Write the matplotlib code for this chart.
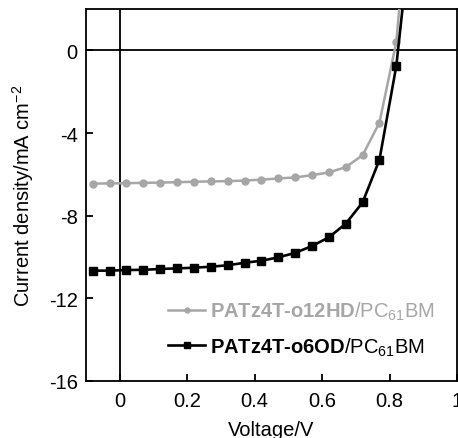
import matplotlib
matplotlib.use("Agg")
import matplotlib.pyplot as plt

plt.rcParams['font.family'] = ['Liberation Sans', 'DejaVu Sans']
plt.rcParams['mathtext.fontset'] = 'custom'
plt.rcParams['mathtext.rm'] = 'Liberation Sans'
plt.rcParams['mathtext.it'] = 'Liberation Sans:italic'
plt.rcParams['mathtext.bf'] = 'Liberation Sans:bold'
plt.rcParams['axes.unicode_minus'] = False

# Voltage (V) of measured points
voltage = [-0.08, -0.03, 0.02, 0.07, 0.12, 0.17, 0.22, 0.27, 0.32, 0.37,
           0.42, 0.47, 0.52, 0.57, 0.62, 0.67, 0.72, 0.77, 0.82]
# PATz4T-o12HD/PC61BM current density (mA cm-2)
j_o12hd = [-6.45, -6.44, -6.43, -6.41, -6.40, -6.38, -6.36, -6.34, -6.33, -6.30,
           -6.26, -6.20, -6.15, -6.04, -5.91, -5.65, -5.08, -3.50, 0.40]
# PATz4T-o6OD/PC61BM current density (mA cm-2)
j_o6od = [-10.66, -10.66, -10.63, -10.62, -10.58, -10.55, -10.52, -10.47, -10.40, -10.28,
          -10.18, -10.02, -9.80, -9.47, -9.05, -8.39, -7.36, -5.30, -0.76]
# curve continuation above the plot top (line only)
tail_v_o12hd, tail_j_o12hd = 0.832, 2.6
tail_v_o6od, tail_j_o6od = 0.845, 3.0

labels = [r"PATz4T-o12HD$\mathrm{/PC_{61}BM}$", r"PATz4T-o6OD$\mathrm{/PC_{61}BM}$"]
xticks = [0, 0.2, 0.4, 0.6, 0.8, 1]
xticklabels = ["0", "0.2", "0.4", "0.6", "0.8", "1"]
yticks = [-16, -12, -8, -4, 0]

gray = '#a6a6a6'
fs = 14.5

fig = plt.figure(figsize=(4.58, 4.39), dpi=100)
ax = fig.add_axes([86/458, 1-382/439, (457-86)/458, (382-10)/439])

ax.axhline(0, color='black', lw=1.3, zorder=1)
ax.axvline(0, color='black', lw=1.3, zorder=1)

ax.plot(voltage + [tail_v_o12hd], j_o12hd + [tail_j_o12hd], color=gray, lw=1.8,
        marker='o', markersize=5, markevery=slice(0, len(voltage)), label=labels[0], zorder=3)
ax.plot(voltage + [tail_v_o6od], j_o6od + [tail_j_o6od], color='black', lw=1.9,
        marker='s', markersize=5.2, markevery=slice(0, len(voltage)), label=labels[1], zorder=4)

ax.set_xlim(-0.1, 1.0)
ax.set_ylim(-16, 2)
ax.set_xticks(xticks)
ax.set_xticklabels(xticklabels)
ax.set_yticks(yticks)
ax.tick_params(direction='in', length=5, width=1.3, labelsize=fs)
ax.tick_params(axis='x', pad=7.5)
ax.tick_params(axis='y', pad=6)
for s in ax.spines.values():
    s.set_linewidth(1.3)

ax.set_xlabel('Voltage/V', fontsize=fs, labelpad=7)
ax.set_ylabel(r'Current density/mA cm$^{-2}$', fontsize=fs, labelpad=9)

leg = ax.legend(loc='upper left', bbox_to_anchor=((168-86)/371, (382-301)/372),
                frameon=False, prop={'weight': 'bold', 'size': fs},
                handlelength=37/(fs*100/72), handletextpad=0.25, labelspacing=0.65,
                borderpad=0, borderaxespad=0, markerscale=0.7)
leg.get_texts()[0].set_color(gray)
leg.get_texts()[1].set_color('black')

fig.savefig('out.png', dpi=100)
